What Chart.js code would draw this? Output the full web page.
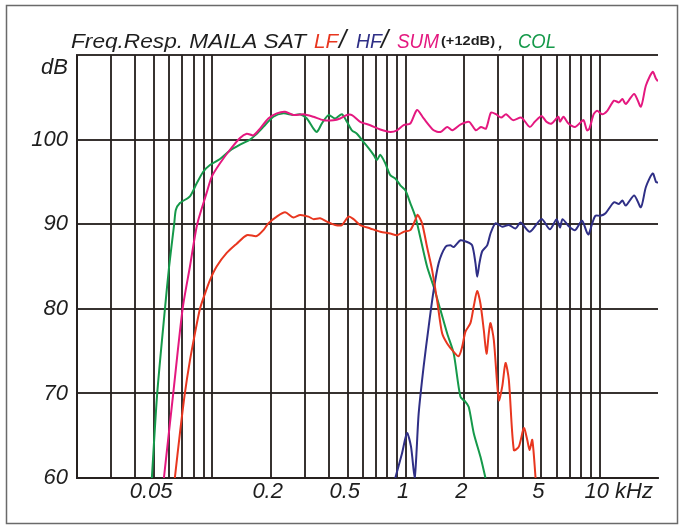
<!DOCTYPE html>
<html>
<head>
<meta charset="utf-8">
<script src="https://cdn.jsdelivr.net/npm/chart.js@4.4.1/dist/chart.umd.min.js"></script>
<style>
    html, body { margin: 0; padding: 0; background: #ffffff; }
    #wrap { position: relative; width: 685px; height: 529px; }
</style>
</head>
<body>
<div id="wrap"><canvas id="frChart" width="685" height="529"></canvas></div>
<script>
// frequency (kHz) / level (dB)
const lfFreq = [0.0640, 0.0680, 0.0721, 0.0766, 0.0813, 0.0863, 0.0916, 0.0972, 0.1052, 0.1186, 0.1336, 0.1505, 0.1695, 0.1834, 0.1946, 0.2151, 0.2374, 0.2621, 0.2839, 0.3133, 0.3327, 0.3602, 0.3902, 0.4307, 0.4665, 0.5047, 0.5357, 0.5801, 0.6536, 0.7362, 0.8292, 0.8982, 0.9719, 1.052, 1.117, 1.148, 1.210, 1.284, 1.363, 1.447, 1.536, 1.630, 1.763, 1.871, 1.949, 2.027, 2.150, 2.237, 2.330, 2.423, 2.520, 2.603, 2.675, 2.730, 2.840, 3.013, 3.138, 3.264, 3.395, 3.603, 3.824, 4.059, 4.227, 4.344, 4.486, 4.666];
const lfDb   = [60, 65.3, 70.0, 73.9, 77.1, 80.0, 81.8, 83.4, 85.0, 86.6, 87.7, 88.7, 88.6, 89.3, 90.1, 90.9, 91.4, 90.8, 91.1, 90.9, 90.6, 90.7, 90.3, 89.9, 89.9, 90.9, 90.6, 89.9, 89.5, 89.1, 88.9, 88.7, 89.1, 89.3, 90.5, 91.1, 90.1, 87.3, 84.6, 81.0, 77.1, 75.9, 74.9, 74.4, 75.5, 77.3, 78.3, 80.3, 82.1, 80.6, 77.5, 74.7, 77.1, 78.3, 76.3, 69.2, 70.8, 73.6, 71.6, 63.3, 63.7, 65.9, 64.5, 63.3, 64.5, 60];

const hfFreq = [0.880, 0.953, 1.012, 1.061, 1.108, 1.162, 1.233, 1.309, 1.389, 1.474, 1.597, 1.695, 1.763, 1.910, 2.069, 2.195, 2.283, 2.330, 2.394, 2.473, 2.624, 2.730, 2.897, 3.138, 3.395, 3.677, 3.902, 4.354, 5.005, 5.533, 5.993, 6.239, 6.423, 6.896, 7.468, 8.098, 8.596, 8.772, 9.124, 9.501, 10.08, 10.72, 11.85, 12.57, 13.09, 13.63, 15.07, 16.32, 17.32, 18.78, 19.53, 20];
const hfDb   = [60, 62.9, 65.3, 63.7, 60, 67.6, 73.2, 77.9, 82.2, 85.4, 87.3, 87.5, 87.3, 88.1, 87.9, 87.5, 85.4, 83.8, 85.4, 86.8, 87.5, 88.9, 90.1, 89.7, 89.9, 89.5, 90.2, 89.1, 90.6, 89.4, 90.6, 89.6, 90.6, 89.8, 89.3, 90.4, 89.0, 88.8, 90.0, 91.0, 91.0, 91.3, 92.6, 92.4, 92.8, 92.2, 93.4, 92.0, 94.4, 96.0, 95.0, 94.9];

const sumFreq = [0.0562, 0.0628, 0.0702, 0.0766, 0.0835, 0.0934, 0.0992, 0.1095, 0.1233, 0.1389, 0.1505, 0.1628, 0.1763, 0.1946, 0.2151, 0.2374, 0.2621, 0.2953, 0.3327, 0.3748, 0.4220, 0.4571, 0.4951, 0.5256, 0.5801, 0.6536, 0.7362, 0.8292, 0.8982, 0.9719, 1.052, 1.140, 1.233, 1.389, 1.504, 1.632, 1.732, 1.917, 2.118, 2.294, 2.435, 2.587, 2.746, 2.915, 3.097, 3.287, 3.565, 3.939, 4.354, 4.622, 5.005, 5.319, 5.645, 6.114, 6.239, 6.497, 6.896, 7.468, 7.935, 8.254, 8.596, 8.845, 9.311, 9.696, 10.29, 10.94, 11.85, 12.57, 13.09, 13.63, 15.07, 16.32, 17.32, 18.78, 19.53, 20];
const sumDb   = [60, 70, 80, 85, 90, 93.7, 95.6, 97.2, 98.8, 100.2, 100.7, 100.5, 101.3, 102.5, 103.1, 103.3, 102.9, 103.0, 102.7, 102.3, 102.3, 102.5, 102.9, 102.9, 102.1, 101.7, 101.2, 100.9, 101.1, 101.7, 101.9, 103.5, 102.5, 101.1, 100.9, 101.5, 101.1, 101.8, 102.1, 101.1, 101.5, 101.3, 103.2, 103.0, 102.6, 103.0, 102.3, 102.6, 101.5, 102.1, 102.8, 102.1, 101.9, 102.7, 102.1, 102.7, 101.9, 101.5, 102.0, 102.3, 101.1, 101.3, 103.0, 103.4, 103.0, 103.4, 104.6, 104.4, 104.8, 104.2, 105.4, 103.9, 106.4, 108.0, 107.2, 106.9];

const colFreq = [0.0487, 0.0519, 0.0569, 0.0598, 0.0635, 0.0648, 0.0680, 0.0766, 0.0829, 0.0897, 0.0972, 0.1095, 0.1233, 0.1389, 0.1565, 0.1661, 0.1834, 0.2065, 0.2327, 0.2621, 0.2839, 0.3074, 0.3327, 0.3464, 0.3676, 0.3977, 0.4307, 0.4665, 0.4951, 0.5256, 0.5578, 0.5920, 0.6406, 0.6800, 0.7079, 0.7362, 0.7813, 0.8292, 0.8802, 0.9344, 0.9917, 1.052, 1.117, 1.186, 1.284, 1.389, 1.504, 1.630, 1.763, 1.910, 2.027, 2.108, 2.237, 2.423, 2.572];
const colDb   = [60, 70, 80, 85, 90, 91.7, 92.5, 93.3, 94.8, 96.2, 97.0, 97.7, 98.7, 99.4, 100.0, 100.5, 101.5, 102.7, 103.1, 102.9, 103.0, 102.5, 101.3, 100.9, 101.9, 102.9, 102.5, 103.0, 102.1, 101.1, 100.7, 99.95, 99.0, 98.2, 97.6, 98.2, 97.2, 95.8, 95.4, 94.6, 94.0, 92.5, 90.9, 88.4, 85.0, 82.6, 79.9, 77.1, 74.7, 69.6, 69.0, 68.4, 65.3, 62.5, 60];

// axis: vertical grid lines and the labelled ticks
const gridFreqs = [0.02, 0.03, 0.04, 0.05, 0.06, 0.07, 0.08, 0.09, 0.1, 0.2, 0.3, 0.4, 0.5, 0.6, 0.7, 0.8, 0.9, 1, 2, 3, 4, 5, 6, 7, 8, 9, 10];
const xTickValues = [0.05, 0.2, 0.5, 1, 2, 5, 10];
const xTickLabels = ['0.05', '0.2', '0.5', '1', '2', '5', '10 kHz'];
const yTickValues = [60, 70, 80, 90, 100, 110];

const COLORS = {
    lf: '#e8361f',
    hf: '#2f2f86',
    sum: '#e4187f',
    col: '#15994a',
    ink: '#1e1e1e',
    grid: 'rgba(38,33,30,0.92)'
};

const FONT = '"Liberation Sans", Arial, sans-serif';

function toPoints(freqs, dbs) {
    return freqs.map((f, i) => ({ x: f, y: dbs[i] }));
}

function lineSet(label, freqs, dbs, color) {
    return {
        label: label,
        data: toPoints(freqs, dbs),
        borderColor: color,
        backgroundColor: color,
        borderWidth: 2,
        pointRadius: 0,
        tension: 0.25,
        fill: false
    };
}

// title, frame, "dB" unit and x tick labels
const decorPlugin = {
    id: 'decor',
    afterDraw(chart) {
        const ctx = chart.ctx;
        const xs = chart.scales.x;
        ctx.save();

        // outer frame
        ctx.strokeStyle = '#6a6a6a';
        ctx.lineWidth = 1.5;
        ctx.strokeRect(6.5, 5.5, 671, 518);

        // x tick labels
        ctx.fillStyle = COLORS.ink;
        ctx.font = 'italic 22px ' + FONT;
        ctx.textBaseline = 'middle';
        xTickValues.forEach((v, i) => {
            const px = xs.getPixelForValue(v);
            const txt = xTickLabels[i];
            if (txt.indexOf(' ') > 0) {
                const head = txt.split(' ')[0];
                ctx.textAlign = 'left';
                ctx.fillText(txt, px - ctx.measureText(head).width / 2 - 3, 492);
            } else {
                ctx.textAlign = 'center';
                ctx.fillText(txt, px - 3, 492);
            }
        });

        // unit on y axis
        ctx.textAlign = 'right';
        ctx.fillText('dB', 68, 68);

        // coloured title: text, colour, font, left x, target width (0 = natural)
        const parts = [
            ['Freq.Resp. MAILA SAT', COLORS.ink, 'italic 21px ', 71, 235],
            ['LF', COLORS.lf, 'italic 21px ', 314, 24],
            ['/', COLORS.ink, 'italic 26px ', 339, 0],
            ['HF', COLORS.hf, 'italic 21px ', 356, 26],
            ['/', COLORS.ink, 'italic 26px ', 381, 0],
            ['SUM', COLORS.sum, 'italic 21px ', 397, 42],
            ['(+12dB)', COLORS.ink, 'bold 13px ', 441, 54],
            [',', COLORS.ink, 'italic 21px ', 498, 0],
            ['COL', COLORS.col, 'italic 21px ', 518, 38]
        ];
        ctx.textAlign = 'left';
        ctx.textBaseline = 'alphabetic';
        parts.forEach(p => {
            ctx.font = p[2] + FONT;
            ctx.fillStyle = p[1];
            const w = ctx.measureText(p[0]).width;
            ctx.save();
            ctx.translate(p[3], p[2].indexOf('13px') >= 0 ? 45 : 48);
            if (p[4] > 0) ctx.scale(p[4] / w, 1);
            ctx.fillText(p[0], 0, 0);
            ctx.restore();
        });
        ctx.restore();
    }
};

new Chart(document.getElementById('frChart'), {
    type: 'line',
    data: {
        datasets: [
            lineSet('SUM', sumFreq, sumDb, COLORS.sum),
            lineSet('LF', lfFreq, lfDb, COLORS.lf),
            lineSet('HF', hfFreq, hfDb, COLORS.hf),
            lineSet('COL', colFreq, colDb, COLORS.col)
        ]
    },
    options: {
        responsive: false,
        animation: false,
        events: [],
        layout: { padding: { top: 55, right: 27, left: 0, bottom: 0 } },
        plugins: {
            legend: { display: false },
            tooltip: { enabled: false },
            title: { display: false }
        },
        scales: {
            x: {
                type: 'logarithmic',
                min: 0.02,
                max: 20,
                afterBuildTicks(scale) {
                    scale.ticks = gridFreqs.map(v => ({ value: v }));
                },
                afterFit(scale) { scale.height = 51; },
                ticks: { display: false },
                grid: { color: COLORS.grid, lineWidth: 2, drawTicks: false },
                border: { display: true, color: COLORS.grid, width: 2 }
            },
            y: {
                min: 60,
                max: 110,
                afterBuildTicks(scale) {
                    scale.ticks = yTickValues.map(v => ({ value: v }));
                },
                afterFit(scale) { scale.width = 77; },
                ticks: {
                    padding: 9,
                    color: COLORS.ink,
                    font: { family: FONT, size: 22, style: 'italic' },
                    callback: v => (v === 110 ? '' : String(v))
                },
                grid: { color: COLORS.grid, lineWidth: 2, drawTicks: false },
                border: { display: true, color: COLORS.grid, width: 2 }
            }
        }
    },
    plugins: [decorPlugin]
});
</script>
</body>
</html>
